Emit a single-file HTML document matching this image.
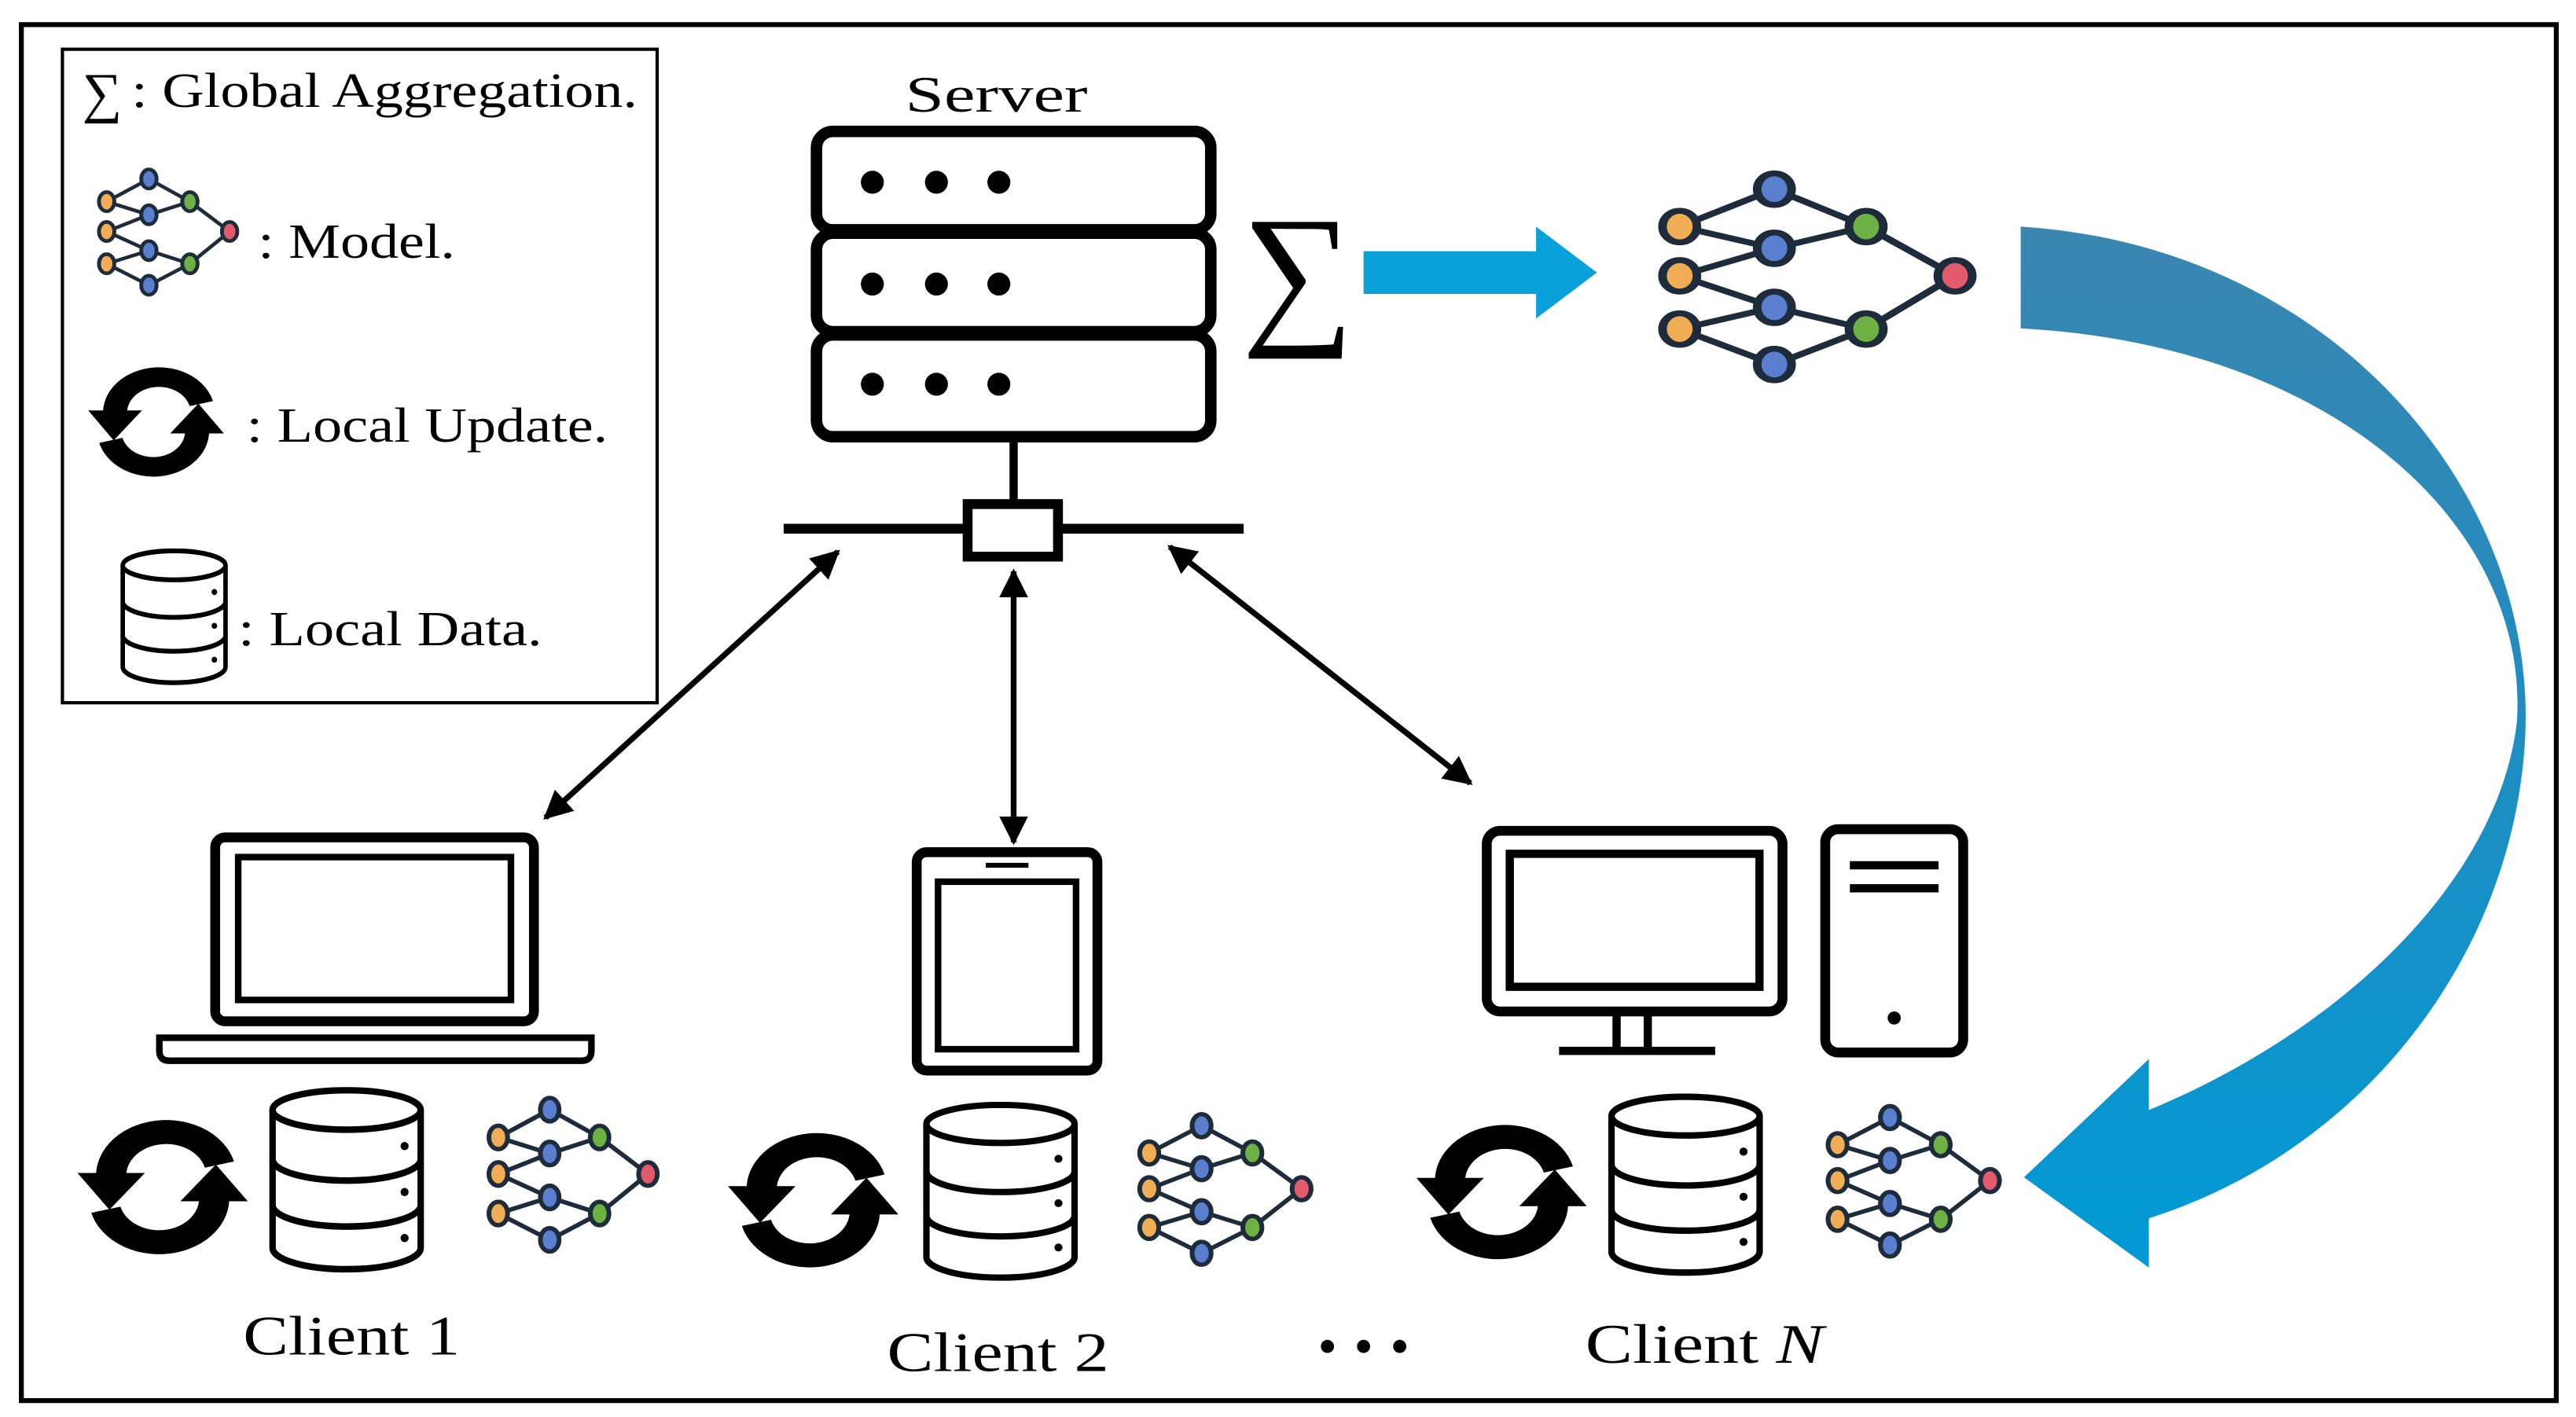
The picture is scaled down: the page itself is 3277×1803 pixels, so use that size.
<!DOCTYPE html>
<html><head><meta charset="utf-8"><style>
html,body{margin:0;padding:0;background:#fff;}
svg{display:block;}
</style></head><body>
<svg width="3277" height="1803" viewBox="0 0 1568 863" preserveAspectRatio="none" xmlns="http://www.w3.org/2000/svg" font-family="'Liberation Serif','DejaVu Serif',serif">
<defs>
<symbol id="model" viewBox="-4 -5 118 110" preserveAspectRatio="none">
<g stroke="#1d2b3a" stroke-width="3" fill="none">
<path d="M10 25 L43 6 L75 25 L43 36 Z M10 50 L43 36 M10 50 L43 66 M10 77 L43 66 L75 77 L43 95 Z M75 25 L106 50 L75 77"/>
</g>
<g stroke="#1d2b3a" stroke-width="3">
<ellipse cx="10" cy="25" rx="6" ry="8" fill="#f0ad55"/>
<ellipse cx="10" cy="50" rx="6" ry="8" fill="#f0ad55"/>
<ellipse cx="10" cy="77" rx="6" ry="8" fill="#f0ad55"/>
<ellipse cx="43" cy="6" rx="6" ry="8" fill="#5b7fcf"/>
<ellipse cx="43" cy="36" rx="6" ry="8" fill="#5b7fcf"/>
<ellipse cx="43" cy="66" rx="6" ry="8" fill="#5b7fcf"/>
<ellipse cx="43" cy="95" rx="6" ry="8" fill="#5b7fcf"/>
<ellipse cx="75" cy="25" rx="6" ry="8" fill="#6db043"/>
<ellipse cx="75" cy="77" rx="6" ry="8" fill="#6db043"/>
<ellipse cx="106" cy="50" rx="6" ry="8" fill="#e25a6e"/>
</g>
</symbol>
<symbol id="upd" viewBox="0 0 100 100" preserveAspectRatio="none">
<path d="M22 50 A30 30 0 0 1 82 34" stroke="#000" stroke-width="17" fill="none"/>
<polygon points="2,40 40,40 20,66" fill="#000"/>
<path d="M78 50 A30 30 0 0 1 18 66" stroke="#000" stroke-width="17" fill="none"/>
<polygon points="98,60 60,60 80,34" fill="#000"/>
</symbol>
<symbol id="db" viewBox="0 0 100 114" preserveAspectRatio="none">
<g stroke="#000" stroke-width="4" fill="#fff">
<path d="M4 14 L4 98 A46 13 0 0 0 96 98 L96 14"/>
<ellipse cx="50" cy="14" rx="46" ry="12"/>
<path d="M4 44 A46 13 0 0 0 96 44 M4 72 A46 13 0 0 0 96 72" fill="none"/>
</g>
<circle cx="86" cy="36" r="2.5"/><circle cx="86" cy="64" r="2.5"/><circle cx="86" cy="92" r="2.5"/>
</symbol>
<linearGradient id="bg" x1="0" y1="0" x2="0" y2="1">
<stop offset="0" stop-color="#3a86b0"/><stop offset="0.5" stop-color="#1f8dc0"/><stop offset="1" stop-color="#0099d4"/>
</linearGradient>
<marker id="ah" viewBox="0 0 10 10" refX="9" refY="5" markerWidth="5" markerHeight="5" orient="auto-start-reverse"><path d="M0 0 L10 5 L0 10 Z" fill="#000"/></marker>
</defs>

<rect x="13" y="15" width="1543" height="838" fill="none" stroke="#000" stroke-width="3"/>
<rect x="38" y="30" width="362" height="398" fill="none" stroke="#000" stroke-width="2"/>

<text x="50" y="68" font-size="34">∑</text>
<text x="80" y="65" font-size="30" textLength="308" lengthAdjust="spacingAndGlyphs">: Global Aggregation.</text>
<use href="#model" x="54" y="101" width="92" height="80"/>
<text x="157" y="157" font-size="30" textLength="120" lengthAdjust="spacingAndGlyphs">: Model.</text>
<use href="#upd" x="52" y="222" width="86" height="70"/>
<text x="150" y="269" font-size="30" textLength="220" lengthAdjust="spacingAndGlyphs">: Local Update.</text>
<use href="#db" x="72" y="334" width="68" height="84"/>
<text x="145" y="393" font-size="30" textLength="185" lengthAdjust="spacingAndGlyphs">: Local Data.</text>

<text x="551" y="68" font-size="31" textLength="111" lengthAdjust="spacingAndGlyphs">Server</text>
<g stroke="#000" stroke-width="7" fill="#fff">
<rect x="497" y="80" width="240" height="60" rx="10"/>
<rect x="497" y="142" width="240" height="60" rx="10"/>
<rect x="497" y="204" width="240" height="62" rx="10"/>
</g>
<g fill="#000">
<circle cx="531" cy="111" r="7"/><circle cx="570" cy="111" r="7"/><circle cx="608" cy="111" r="7"/>
<circle cx="531" cy="173" r="7"/><circle cx="570" cy="173" r="7"/><circle cx="608" cy="173" r="7"/>
<circle cx="531" cy="234" r="7"/><circle cx="570" cy="234" r="7"/><circle cx="608" cy="234" r="7"/>
</g>
<line x1="617" y1="266" x2="617" y2="306" stroke="#000" stroke-width="5"/>
<line x1="477" y1="322" x2="757" y2="322" stroke="#000" stroke-width="6"/>
<rect x="589" y="307" width="55" height="32" fill="#fff" stroke="#000" stroke-width="6"/>

<text x="790" y="198" font-size="96" text-anchor="middle">∑</text>
<rect x="830" y="153" width="108" height="26" fill="#0aa0da"/>
<polygon points="935,138 972,166 935,194" fill="#0aa0da"/>
<use href="#model" x="998" y="102" width="206" height="132"/>

<path d="M1230 138 C1420 150 1545 300 1537 450 C1530 580 1440 700 1308 742 L1308 772 L1232 717 L1308 645 L1308 676 C1420 630 1520 540 1532 440 C1540 320 1420 210 1230 200 Z" fill="url(#bg)"/>

<g stroke="#000" stroke-width="3.5" marker-start="url(#ah)" marker-end="url(#ah)">
<line x1="510" y1="336" x2="332" y2="498"/>
<line x1="617" y1="348" x2="617" y2="513"/>
<line x1="712" y1="333" x2="895" y2="477"/>
</g>

<g stroke="#000" stroke-width="6" fill="#fff">
<rect x="131" y="510" width="194" height="112" rx="6"/>
<rect x="145" y="522" width="166" height="87" stroke-width="4"/>
<path d="M97 632 L360 632 L360 640 Q360 646 354 646 L103 646 Q97 646 97 640 Z" stroke-width="4"/>
<rect x="558" y="519" width="110" height="133" rx="6"/>
<rect x="571" y="537" width="84" height="102" stroke-width="4"/>
<rect x="905" y="506" width="180" height="110" rx="8"/>
<rect x="919" y="520" width="152" height="81" stroke-width="5"/>
<rect x="1111" y="505" width="84" height="136" rx="8"/>
</g>
<line x1="600" y1="527" x2="626" y2="527" stroke="#000" stroke-width="3"/>
<g stroke="#000" stroke-width="5">
<line x1="984" y1="616" x2="984" y2="640"/><line x1="1003" y1="616" x2="1003" y2="640"/>
<line x1="949" y1="640" x2="1044" y2="640"/>
<line x1="1126" y1="527" x2="1180" y2="527"/><line x1="1126" y1="541" x2="1180" y2="541"/>
</g>
<circle cx="1153" cy="620" r="4"/>

<use href="#upd" x="45" y="680" width="108" height="86"/>
<use href="#db" x="162" y="662" width="98" height="114"/>
<use href="#model" x="290" y="666" width="112" height="98"/>
<text x="148" y="825" font-size="34" textLength="132" lengthAdjust="spacingAndGlyphs">Client 1</text>

<use href="#upd" x="441" y="688" width="108" height="86"/>
<use href="#db" x="560" y="671" width="98" height="110"/>
<use href="#model" x="686" y="676" width="114" height="96"/>
<text x="540" y="835" font-size="34" textLength="135" lengthAdjust="spacingAndGlyphs">Client 2</text>

<g fill="#000"><circle cx="808" cy="820" r="4"/><circle cx="830" cy="820" r="4"/><circle cx="852" cy="820" r="4"/></g>

<use href="#upd" x="860" y="683" width="108" height="86"/>
<use href="#db" x="977" y="666" width="98" height="112"/>
<use href="#model" x="1105" y="671" width="114" height="96"/>
<text x="965" y="830" font-size="34" textLength="145" lengthAdjust="spacingAndGlyphs">Client <tspan font-style="italic">N</tspan></text>
</svg>
</body></html>
